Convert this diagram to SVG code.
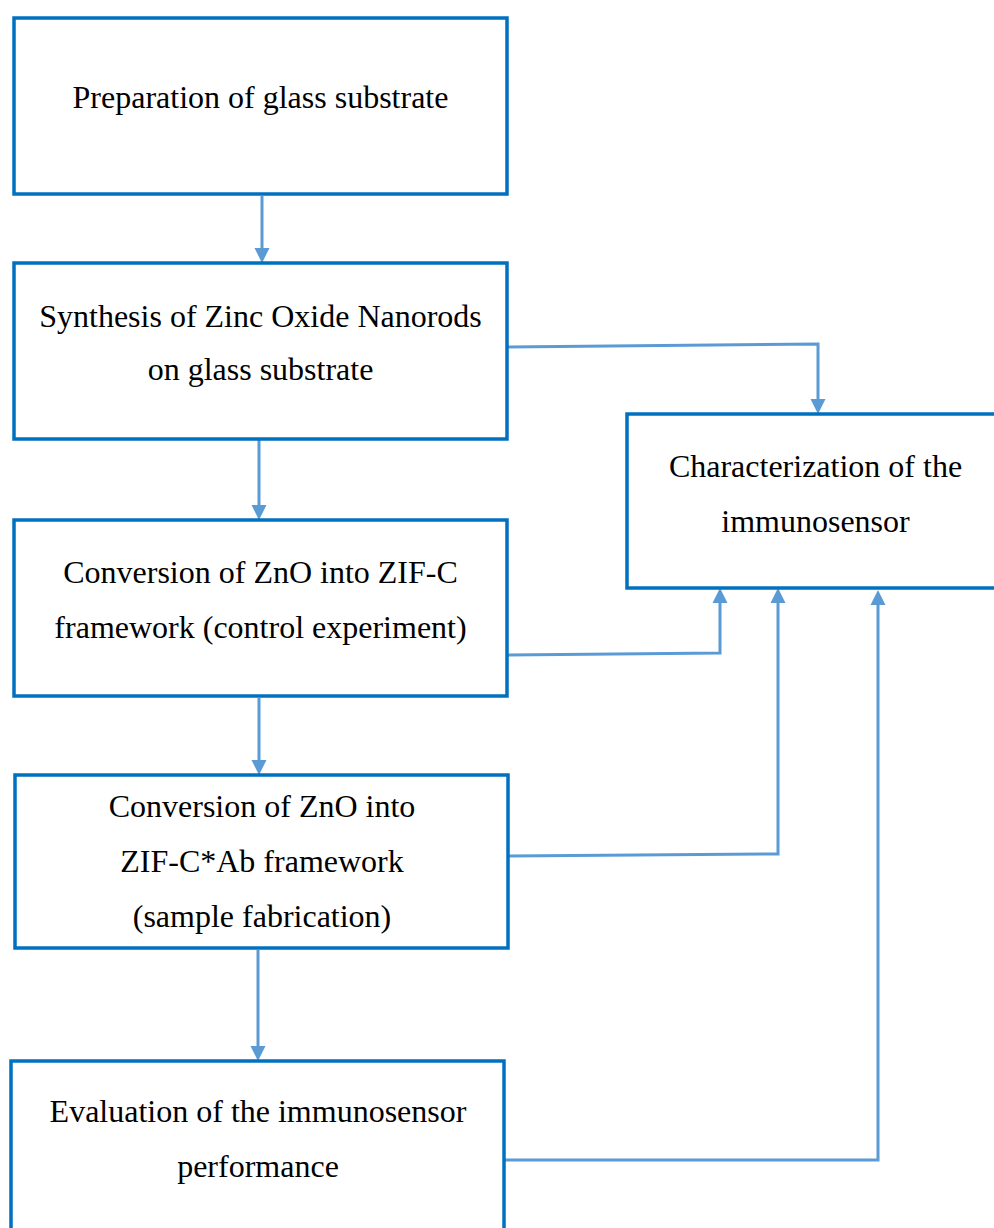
<svg xmlns="http://www.w3.org/2000/svg" width="994" height="1228" viewBox="0 0 994 1228">
<style>
.box{fill:#fff;stroke:#0070C0;stroke-width:3.5}
.lbl{font-family:"Liberation Serif","Times New Roman",serif;font-size:32px;fill:#000;text-anchor:middle}
.con{fill:none;stroke:#5B9BD5;stroke-width:3}
</style>
<defs>
<marker id="ah" markerUnits="userSpaceOnUse" markerWidth="16" markerHeight="16" refX="1" refY="7.5" orient="auto" overflow="visible">
<path d="M0,0 L15,7.5 L0,15 z" fill="#5B9BD5"/>
</marker>
</defs>
<rect width="994" height="1228" fill="#fff"/>
<g id="connectors">
<path class="con" d="M262,196 V249" marker-end="url(#ah)"/>
<path class="con" d="M259,440 V506" marker-end="url(#ah)"/>
<path class="con" d="M259,698 V761" marker-end="url(#ah)"/>
<path class="con" d="M258,950 V1047" marker-end="url(#ah)"/>
<path class="con" d="M507,347 L818,344 V400" marker-end="url(#ah)"/>
<path class="con" d="M507,655 L720,653 V602" marker-end="url(#ah)"/>
<path class="con" d="M509,856 L778,854 V602" marker-end="url(#ah)"/>
<path class="con" d="M504,1160 H878 V604" marker-end="url(#ah)"/>
</g>
<g id="n1">
<rect class="box" x="14" y="18" width="493" height="176"/>
<text class="lbl" x="260.5" y="108">Preparation of glass substrate</text>
</g>
<g id="n2">
<rect class="box" x="14" y="263" width="493" height="176"/>
<text class="lbl" x="260.5" y="327">Synthesis of Zinc Oxide Nanorods</text>
<text class="lbl" x="260.5" y="380">on glass substrate</text>
</g>
<g id="n3">
<rect class="box" x="14" y="520" width="493" height="176"/>
<text class="lbl" x="260.5" y="583">Conversion of ZnO into ZIF-C</text>
<text class="lbl" x="260.5" y="638">framework (control experiment)</text>
</g>
<g id="n4">
<rect class="box" x="15" y="775" width="493" height="173"/>
<text class="lbl" x="262" y="817">Conversion of ZnO into</text>
<text class="lbl" x="262" y="872">ZIF-C*Ab framework</text>
<text class="lbl" x="262" y="927">(sample fabrication)</text>
</g>
<g id="n5">
<rect class="box" x="11" y="1061" width="493" height="190"/>
<text class="lbl" x="258" y="1122">Evaluation of the immunosensor</text>
<text class="lbl" x="258" y="1177">performance</text>
</g>
<g id="n6">
<rect class="box" x="627" y="414" width="380" height="174"/>
<text class="lbl" x="815.5" y="477">Characterization of the</text>
<text class="lbl" x="815.5" y="532">immunosensor</text>
</g>
</svg>
